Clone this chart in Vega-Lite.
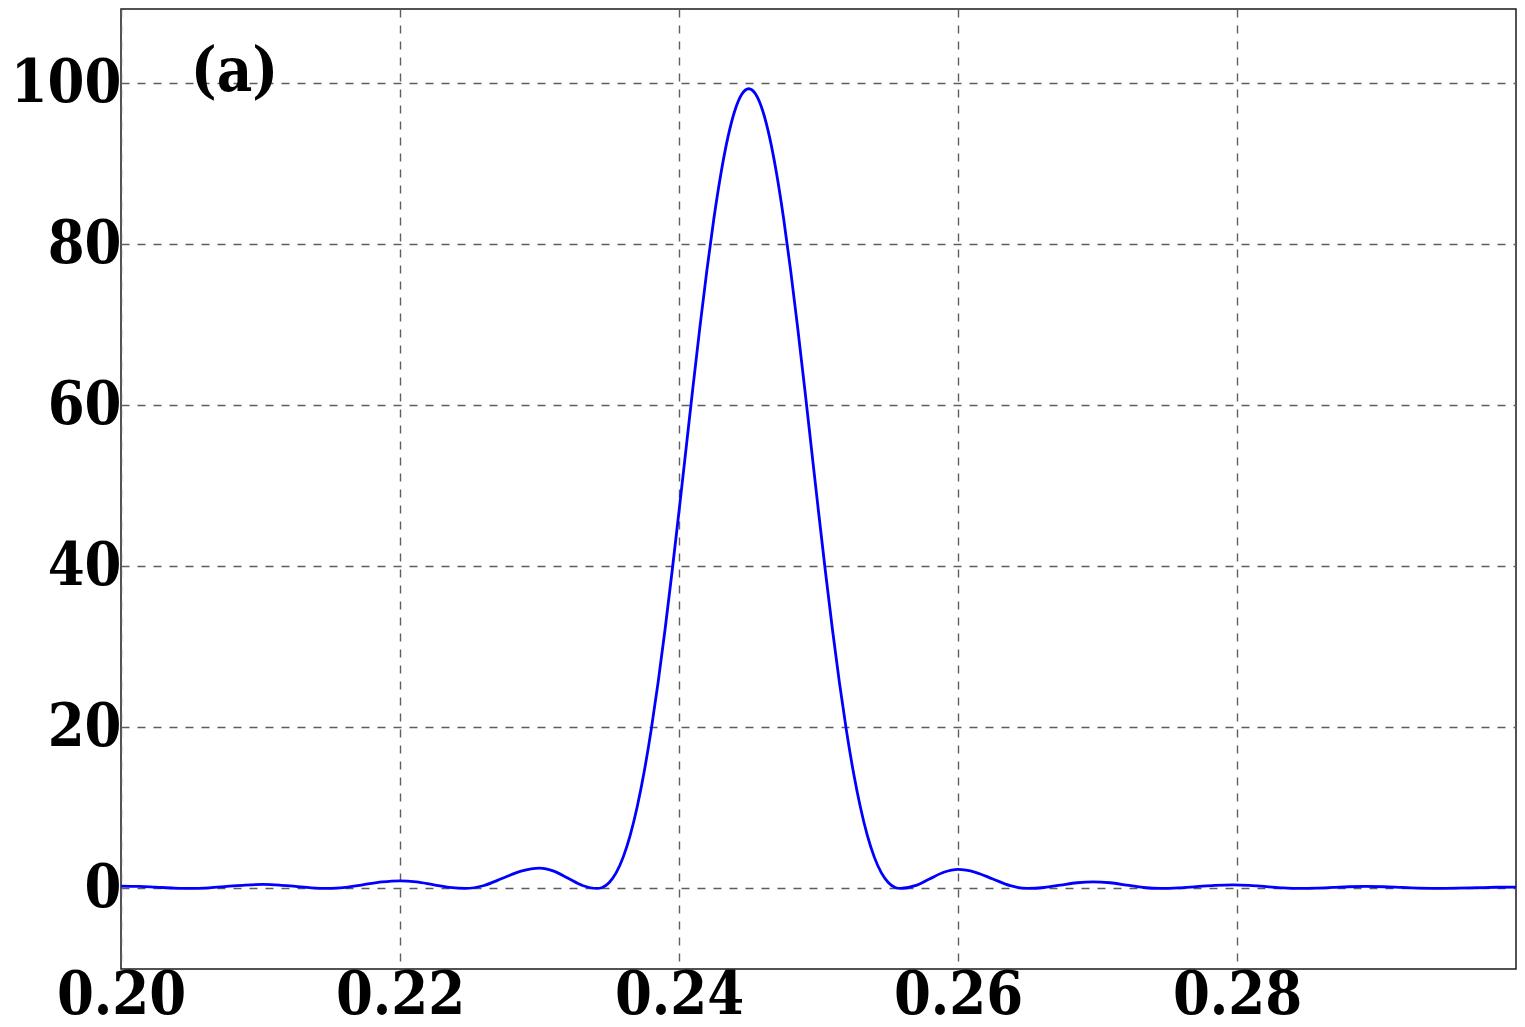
{
  "$schema": "https://vega.github.io/schema/vega-lite/v6.json",
  "width": 1395,
  "height": 960,
  "autosize": {"type": "none"},
  "padding": {"left": 121, "top": 9, "right": 9, "bottom": 58},
  "background": "white",
  "config": {
    "view": {"stroke": "#1a1a1a", "strokeWidth": 1.5},
    "axis": {
      "labelFont": "DejaVu Serif Condensed",
      "labelFontWeight": "bold",
      "labelFontSize": 59,
      "labelColor": "black",
      "ticks": false,
      "domain": false,
      "grid": true,
      "gridDash": [8, 8],
      "gridColor": "#5e5e5e",
      "gridWidth": 1.4,
      "title": null,
      "labelFlush": false,
      "labelOverlap": false
    }
  },
  "layer": [
    {
      "data": {
        "values": [
          {"x": 0.2000, "y": 0.30}, {"x": 0.2013, "y": 0.26}, {"x": 0.2025, "y": 0.16}, {"x": 0.2038, "y": 0.05}, {"x": 0.2050, "y": 0},
          {"x": 0.2063, "y": 0.073}, {"x": 0.2076, "y": 0.25}, {"x": 0.2089, "y": 0.427}, {"x": 0.2102, "y": 0.5}, {"x": 0.21135, "y": 0.427}, {"x": 0.2125, "y": 0.25}, {"x": 0.21365, "y": 0.073}, {"x": 0.2148, "y": 0},
          {"x": 0.2161, "y": 0.14}, {"x": 0.2174, "y": 0.475}, {"x": 0.2187, "y": 0.81}, {"x": 0.2200, "y": 0.95}, {"x": 0.22118, "y": 0.81}, {"x": 0.22235, "y": 0.475}, {"x": 0.22353, "y": 0.14}, {"x": 0.2247, "y": 0},
          {"x": 0.22603, "y": 0.37}, {"x": 0.22735, "y": 1.26}, {"x": 0.22868, "y": 2.15}, {"x": 0.2300, "y": 2.52}, {"x": 0.23103, "y": 2.15}, {"x": 0.23205, "y": 1.26}, {"x": 0.23308, "y": 0.37}, {"x": 0.23413, "y": 0},
          {"x": 0.2345, "y": 0.12}, {"x": 0.2350, "y": 0.74}, {"x": 0.2355, "y": 1.96}, {"x": 0.2360, "y": 3.89}, {"x": 0.2365, "y": 6.59}, {"x": 0.2370, "y": 10.11}, {"x": 0.2375, "y": 14.46}, {"x": 0.2380, "y": 19.63}, {"x": 0.2385, "y": 25.56}, {"x": 0.2390, "y": 32.15}, {"x": 0.2395, "y": 39.29}, {"x": 0.2400, "y": 46.81}, {"x": 0.2405, "y": 54.53}, {"x": 0.2410, "y": 62.24}, {"x": 0.2415, "y": 69.73}, {"x": 0.2420, "y": 76.78}, {"x": 0.2425, "y": 83.18}, {"x": 0.2430, "y": 88.72}, {"x": 0.2435, "y": 93.23}, {"x": 0.2440, "y": 96.57}, {"x": 0.2445, "y": 98.61},
          {"x": 0.2450, "y": 99.3},
          {"x": 0.2455, "y": 98.61}, {"x": 0.2460, "y": 96.57}, {"x": 0.2465, "y": 93.23}, {"x": 0.2470, "y": 88.72}, {"x": 0.2475, "y": 83.18}, {"x": 0.2480, "y": 76.78}, {"x": 0.2485, "y": 69.73}, {"x": 0.2490, "y": 62.24}, {"x": 0.2495, "y": 54.53}, {"x": 0.2500, "y": 46.81}, {"x": 0.2505, "y": 39.29}, {"x": 0.2510, "y": 32.15}, {"x": 0.2515, "y": 25.56}, {"x": 0.2520, "y": 19.63}, {"x": 0.2525, "y": 14.46}, {"x": 0.2530, "y": 10.11}, {"x": 0.2535, "y": 6.59}, {"x": 0.2540, "y": 3.89}, {"x": 0.2545, "y": 1.96}, {"x": 0.2550, "y": 0.74}, {"x": 0.2555, "y": 0.12}, {"x": 0.25587, "y": 0},
          {"x": 0.25693, "y": 0.345}, {"x": 0.25795, "y": 1.18}, {"x": 0.25898, "y": 2.01}, {"x": 0.2600, "y": 2.36}, {"x": 0.26125, "y": 2.01}, {"x": 0.2625, "y": 1.18}, {"x": 0.26375, "y": 0.345}, {"x": 0.2650, "y": 0},
          {"x": 0.26618, "y": 0.12}, {"x": 0.26735, "y": 0.415}, {"x": 0.26853, "y": 0.71}, {"x": 0.2697, "y": 0.83}, {"x": 0.2709, "y": 0.71}, {"x": 0.2721, "y": 0.415}, {"x": 0.2733, "y": 0.12}, {"x": 0.2745, "y": 0},
          {"x": 0.2758, "y": 0.066}, {"x": 0.2771, "y": 0.225}, {"x": 0.2784, "y": 0.384}, {"x": 0.2797, "y": 0.45}, {"x": 0.2809, "y": 0.384}, {"x": 0.2821, "y": 0.225}, {"x": 0.2833, "y": 0.066}, {"x": 0.2845, "y": 0},
          {"x": 0.2857, "y": 0.037}, {"x": 0.2869, "y": 0.125}, {"x": 0.2880, "y": 0.213}, {"x": 0.2892, "y": 0.25}, {"x": 0.2905, "y": 0.213}, {"x": 0.2918, "y": 0.125}, {"x": 0.2931, "y": 0.037}, {"x": 0.2944, "y": 0},
          {"x": 0.2958, "y": 0.03}, {"x": 0.2972, "y": 0.09}, {"x": 0.2986, "y": 0.15}, {"x": 0.3000, "y": 0.17}
        ]
      },
      "mark": {"type": "line", "color": "#0000ff", "strokeWidth": 2.8, "interpolate": "monotone", "clip": true},
      "encoding": {
        "x": {
          "field": "x", "type": "quantitative",
          "scale": {"domain": [0.2, 0.3], "nice": false, "zero": false},
          "axis": {"values": [0.2, 0.22, 0.24, 0.26, 0.28], "format": ".2f", "labelPadding": -3}
        },
        "y": {
          "field": "y", "type": "quantitative",
          "scale": {"domain": [-10, 109.2], "nice": false, "zero": false},
          "axis": {"values": [0, 20, 40, 60, 80, 100], "format": "d", "labelPadding": 0}
        }
      }
    },
    {
      "data": {"values": [{"x": 0.2050, "y": 99.0, "label": "(a)"}]},
      "mark": {"type": "text", "font": "DejaVu Serif Condensed", "fontWeight": "bold", "fontSize": 61, "align": "left", "baseline": "alphabetic", "color": "black"},
      "encoding": {
        "x": {"field": "x", "type": "quantitative"},
        "y": {"field": "y", "type": "quantitative"},
        "text": {"field": "label"}
      }
    }
  ]
}
